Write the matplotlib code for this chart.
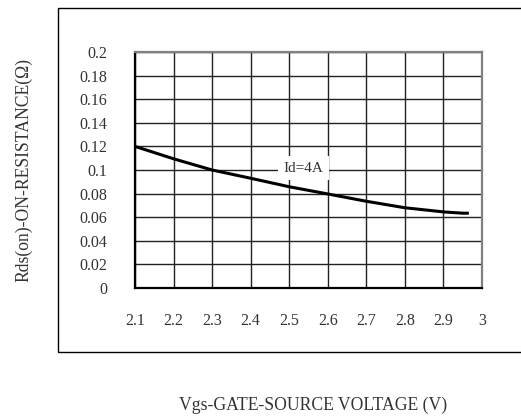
import matplotlib
matplotlib.use("Agg")
import matplotlib.pyplot as plt
from matplotlib.patches import Rectangle

vgs = [2.1, 2.2, 2.3, 2.4, 2.5, 2.6, 2.7, 2.8, 2.9, 2.95, 2.966]
rds = [0.120, 0.1095, 0.100, 0.093, 0.0858, 0.0797, 0.0735, 0.068, 0.0645, 0.0634, 0.0634]
xticks = [2.1, 2.2, 2.3, 2.4, 2.5, 2.6, 2.7, 2.8, 2.9, 3.0]
xticklabels = ["2.1", "2.2", "2.3", "2.4", "2.5", "2.6", "2.7", "2.8", "2.9", "3"]
yticks = [0, 0.02, 0.04, 0.06, 0.08, 0.1, 0.12, 0.14, 0.16, 0.18, 0.2]
yticklabels = ["0", "0.02", "0.04", "0.06", "0.08", "0.1", "0.12", "0.14", "0.16", "0.18", "0.2"]

plt.rcParams['font.family'] = ['Liberation Serif', 'DejaVu Serif']
W, H = 521, 416
fig = plt.figure(figsize=(W / 100, H / 100), dpi=100)
ax = fig.add_axes([135 / W, 1 - 288 / H, (482 - 135) / W, (288 - 52) / H])

# outer frame
fig.patches.append(Rectangle((58 / W, 1 - 352 / H), 1.0, (352 - 8) / H,
                             transform=fig.transFigure, fill=False,
                             edgecolor='black', linewidth=1.0))

ax.plot(vgs, rds, color='black', linewidth=2.2, solid_capstyle='butt', zorder=3)
ax.set_xlim(2.1, 3.0)
ax.set_ylim(0, 0.2)
ax.set_xticks(xticks)
ax.set_xticklabels(xticklabels)
ax.set_yticks(yticks)
ax.set_yticklabels(yticklabels)
ax.tick_params(length=0, labelsize=11.5, colors='#333333')
ax.tick_params(axis='x', pad=18)
ax.tick_params(axis='y', pad=20)
ax.grid(True, color='#222222', linewidth=1.0)
ax.set_axisbelow(True)
for s in ['left', 'bottom']:
    ax.spines[s].set_color('black')
    ax.spines[s].set_linewidth(1.6)
for s in ['top', 'right']:
    ax.spines[s].set_color('#808080')
    ax.spines[s].set_linewidth(1.6)

ax.text(2.536, 0.1015, "Id=4A", ha='center', va='center', fontsize=11, color='#333333',
        bbox=dict(facecolor='white', edgecolor='none', pad=4), zorder=4)

fig.text(24 / W, 1 - 170 / H, "Rds(on)-ON-RESISTANCE(\u03a9)", rotation=90,
         ha='center', va='center', fontsize=12.7, color='#333333')
fig.text(313 / W, 1 - 405 / H, "Vgs-GATE-SOURCE VOLTAGE (V)",
         ha='center', va='center', fontsize=12.7, color='#333333')

fig.savefig("out.png", dpi=100)
